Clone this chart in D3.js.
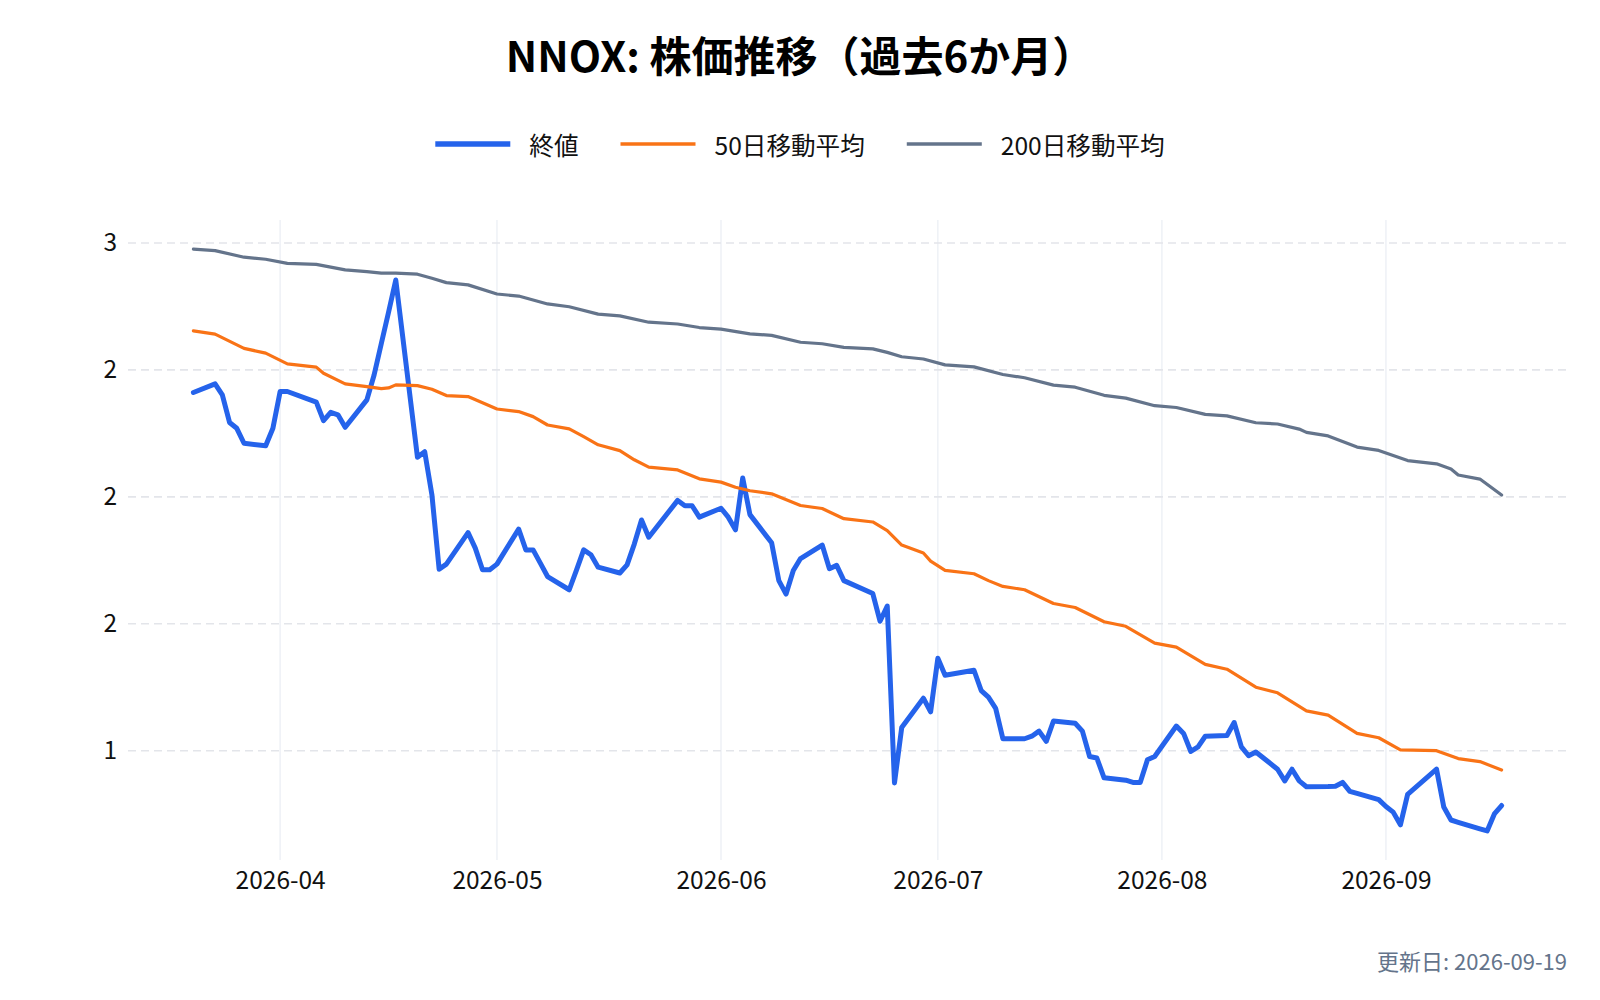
<!DOCTYPE html>
<html>
<head>
<meta charset="utf-8">
<script src="https://cdn.jsdelivr.net/npm/d3@7"></script>
<style>
  body { margin: 0; background: #fff; }
  svg text { font-family: "Noto Sans CJK JP", "Noto Sans", sans-serif; }
</style>
</head>
<body>
<div class="linechart"></div>
<script>
// DATA ------------------------------
const tradeDates = [
  "2026-03-20","2026-03-23","2026-03-24","2026-03-25","2026-03-26","2026-03-27","2026-03-30","2026-03-31",
  "2026-04-01","2026-04-02","2026-04-06","2026-04-07","2026-04-08","2026-04-09","2026-04-10",
  "2026-04-13","2026-04-14","2026-04-15","2026-04-16","2026-04-17","2026-04-20","2026-04-21","2026-04-22",
  "2026-04-23","2026-04-24","2026-04-27","2026-04-28","2026-04-29","2026-04-30","2026-05-01",
  "2026-05-04","2026-05-05","2026-05-06","2026-05-07","2026-05-08","2026-05-11","2026-05-12","2026-05-13",
  "2026-05-14","2026-05-15","2026-05-18","2026-05-19","2026-05-20","2026-05-21","2026-05-22",
  "2026-05-26","2026-05-27","2026-05-28","2026-05-29","2026-06-01","2026-06-02","2026-06-03","2026-06-04",
  "2026-06-05","2026-06-08","2026-06-09","2026-06-10","2026-06-11","2026-06-12","2026-06-15","2026-06-16",
  "2026-06-17","2026-06-18","2026-06-22","2026-06-23","2026-06-24","2026-06-25","2026-06-26",
  "2026-06-29","2026-06-30","2026-07-01","2026-07-02","2026-07-06","2026-07-07","2026-07-08","2026-07-09",
  "2026-07-10","2026-07-13","2026-07-14","2026-07-15","2026-07-16","2026-07-17","2026-07-20","2026-07-21",
  "2026-07-22","2026-07-23","2026-07-24","2026-07-27","2026-07-28","2026-07-29","2026-07-30","2026-07-31",
  "2026-08-03","2026-08-04","2026-08-05","2026-08-06","2026-08-07","2026-08-10","2026-08-11","2026-08-12",
  "2026-08-13","2026-08-14","2026-08-17","2026-08-18","2026-08-19","2026-08-20","2026-08-21",
  "2026-08-24","2026-08-25","2026-08-26","2026-08-27","2026-08-28","2026-08-31","2026-09-01","2026-09-02",
  "2026-09-03","2026-09-04","2026-09-08","2026-09-09","2026-09-10","2026-09-11","2026-09-14","2026-09-15",
  "2026-09-16","2026-09-17"
];

const closeValues = [
  2.411, 2.445, 2.402, 2.293, 2.270, 2.211, 2.201, 2.270,
  2.415, 2.415, 2.373, 2.300, 2.333, 2.323, 2.274,
  2.382, 2.480, 2.604, 2.727, 2.854, 2.156, 2.178, 2.008,
  1.715, 1.735, 1.859, 1.798, 1.713, 1.713, 1.735,
  1.873, 1.791, 1.791, 1.739, 1.686, 1.634, 1.711, 1.791,
  1.772, 1.723, 1.700, 1.732, 1.814, 1.909, 1.841,
  1.986, 1.965, 1.965, 1.920, 1.955, 1.920, 1.870, 2.074,
  1.930, 1.819, 1.670, 1.617, 1.710, 1.757, 1.810, 1.717,
  1.730, 1.670, 1.619, 1.510, 1.570, 0.873, 1.091,
  1.207, 1.153, 1.364, 1.297, 1.317, 1.237, 1.211, 1.167,
  1.047, 1.047, 1.057, 1.077, 1.037, 1.117, 1.108, 1.077,
  0.977, 0.971, 0.893, 0.884, 0.875, 0.875, 0.964, 0.977,
  1.097, 1.068, 0.997, 1.015, 1.057, 1.060, 1.111, 1.015,
  0.980, 0.995, 0.927, 0.881, 0.927, 0.881, 0.858,
  0.859, 0.860, 0.875, 0.840, 0.832, 0.807, 0.780, 0.758,
  0.708, 0.828, 0.927, 0.778, 0.727, 0.718, 0.692, 0.684,
  0.751, 0.784
];

// 50-day moving average (read at the visible kinks)
const ma50Dates = [
  "2026-03-20","2026-03-23","2026-03-27","2026-03-30","2026-04-02","2026-04-06","2026-04-07","2026-04-10",
  "2026-04-13","2026-04-15","2026-04-16","2026-04-17","2026-04-20","2026-04-22","2026-04-24","2026-04-27",
  "2026-05-01","2026-05-04","2026-05-06","2026-05-08","2026-05-11","2026-05-13","2026-05-15","2026-05-18",
  "2026-05-20","2026-05-22","2026-05-26","2026-05-29","2026-06-01","2026-06-03","2026-06-05","2026-06-08",
  "2026-06-12","2026-06-15","2026-06-18","2026-06-22","2026-06-24","2026-06-26","2026-06-29","2026-06-30",
  "2026-07-02","2026-07-06","2026-07-08","2026-07-10","2026-07-13","2026-07-17","2026-07-20","2026-07-24",
  "2026-07-27","2026-07-31","2026-08-03","2026-08-07","2026-08-10","2026-08-14","2026-08-17","2026-08-21",
  "2026-08-24","2026-08-28","2026-08-31","2026-09-03","2026-09-08","2026-09-11","2026-09-14","2026-09-17"
];
const ma50Values = [
  2.654, 2.641, 2.585, 2.566, 2.524, 2.511, 2.487, 2.445,
  2.434, 2.426, 2.429, 2.441, 2.438, 2.424, 2.399, 2.395,
  2.346, 2.336, 2.316, 2.283, 2.268, 2.237, 2.205, 2.182,
  2.146, 2.117, 2.106, 2.071, 2.058, 2.038, 2.024, 2.012,
  1.966, 1.954, 1.914, 1.901, 1.867, 1.810, 1.779, 1.747,
  1.710, 1.697, 1.670, 1.647, 1.634, 1.580, 1.564, 1.508,
  1.490, 1.424, 1.408, 1.340, 1.321, 1.250, 1.228, 1.157,
  1.140, 1.068, 1.051, 1.003, 1.000, 0.969, 0.957, 0.924
];

// 200-day moving average
const ma200Dates = [
  "2026-03-20","2026-03-23","2026-03-27","2026-03-30","2026-04-02","2026-04-06","2026-04-10","2026-04-13",
  "2026-04-15","2026-04-17","2026-04-20","2026-04-22","2026-04-24","2026-04-27","2026-05-01","2026-05-04",
  "2026-05-08","2026-05-11","2026-05-15","2026-05-18","2026-05-22","2026-05-26","2026-05-29","2026-06-01",
  "2026-06-05","2026-06-08","2026-06-12","2026-06-15","2026-06-18","2026-06-22","2026-06-24","2026-06-26",
  "2026-06-29","2026-07-02","2026-07-06","2026-07-10","2026-07-13","2026-07-17","2026-07-20","2026-07-24",
  "2026-07-27","2026-07-31","2026-08-03","2026-08-07","2026-08-10","2026-08-14","2026-08-17","2026-08-20",
  "2026-08-21","2026-08-24","2026-08-28","2026-08-31","2026-09-04","2026-09-08","2026-09-10","2026-09-11",
  "2026-09-14","2026-09-17"
];
const ma200Values = [
  2.976, 2.970, 2.944, 2.936, 2.920, 2.916, 2.894, 2.887,
  2.881, 2.881, 2.877, 2.861, 2.844, 2.835, 2.799, 2.791,
  2.760, 2.749, 2.720, 2.713, 2.688, 2.681, 2.667, 2.661,
  2.642, 2.636, 2.609, 2.603, 2.589, 2.583, 2.569, 2.552,
  2.543, 2.520, 2.512, 2.482, 2.469, 2.440, 2.432, 2.400,
  2.389, 2.359, 2.352, 2.325, 2.319, 2.292, 2.287, 2.267,
  2.254, 2.240, 2.196, 2.183, 2.143, 2.130, 2.110, 2.086,
  2.070, 2.007
];

const seriesNames = ["終値", "50日移動平均", "200日移動平均"];
const xTickDates = ["2026-04-01","2026-05-01","2026-06-01","2026-07-01","2026-08-01","2026-09-01"];
const yTickValues = [3, 2.5, 2, 1.5, 1];
const yTickLabels = ["3", "2", "2", "2", "1"];
const titleText = "NNOX: 株価推移（過去6か月）";
const updatedText = "更新日: 2026-09-19";

// CHART INIT ------------------------------
const parseDate = d3.utcParse("%Y-%m-%d");

const series = [
  { name: seriesNames[0], color: "#2563eb", width: 5,
    points: tradeDates.map((d, i) => ({ date: parseDate(d), value: closeValues[i] })) },
  { name: seriesNames[1], color: "#f97316", width: 3.2,
    points: ma50Dates.map((d, i) => ({ date: parseDate(d), value: ma50Values[i] })) },
  { name: seriesNames[2], color: "#64748b", width: 3.2,
    points: ma200Dates.map((d, i) => ({ date: parseDate(d), value: ma200Values[i] })) }
];

const totalW = 1600, totalH = 1000;
const margin = ({top: 220, right: 33, bottom: 140, left: 128});
const width = totalW - margin.left - margin.right,
      height = totalH - margin.top - margin.bottom;

const svg = d3.select(".linechart")
    .append("svg")
    .attr("width", totalW)
    .attr("height", totalH);

const g = svg.append("g")
    .attr("transform", `translate(${margin.left},${margin.top})`);

// scales (5% padding on both axes)
const allPoints = series.flatMap(s => s.points);
const xExt = d3.extent(allPoints, d => d.date);
const xPad = (xExt[1] - xExt[0]) * 0.05;
const xScale = d3.scaleUtc()
    .domain([new Date(+xExt[0] - xPad), new Date(+xExt[1] + xPad)])
    .range([0, width]);

const yExt = d3.extent(allPoints, d => d.value);
const yPad = (yExt[1] - yExt[0]) * 0.05;
const yScale = d3.scaleLinear()
    .domain([yExt[0] - yPad, yExt[1] + yPad])
    .range([height, 0]);

const xTicks = xTickDates.map(parseDate);

// grid
g.append("g")
    .attr("class", "x-grid")
    .selectAll("line")
    .data(xTicks)
    .join("line")
    .attr("x1", d => xScale(d))
    .attr("x2", d => xScale(d))
    .attr("y1", 0)
    .attr("y2", height)
    .attr("stroke", "#eef1f6")
    .attr("stroke-width", 1.5);

g.append("g")
    .attr("class", "y-grid")
    .selectAll("line")
    .data(yTickValues)
    .join("line")
    .attr("x1", 0)
    .attr("x2", width)
    .attr("y1", d => yScale(d))
    .attr("y2", d => yScale(d))
    .attr("stroke", "#e3e5ea")
    .attr("stroke-width", 1.6)
    .attr("stroke-dasharray", "8,5");

// axes
const xAxis = d3.axisBottom(xScale)
    .tickValues(xTicks)
    .tickFormat(d3.utcFormat("%Y-%m"))
    .tickSize(0)
    .tickPadding(12);

const yAxis = d3.axisLeft(yScale)
    .tickValues(yTickValues)
    .tickFormat((d, i) => yTickLabels[i])
    .tickSize(0)
    .tickPadding(11);

g.append("g")
    .attr("class", "axis x-axis")
    .attr("transform", `translate(0, ${height})`)
    .call(xAxis)
    .call(a => a.select(".domain").remove());

g.append("g")
    .attr("class", "axis y-axis")
    .call(yAxis)
    .call(a => a.select(".domain").remove());

svg.selectAll(".axis text")
    .attr("font-family", "Noto Sans CJK JP, Noto Sans, sans-serif")
    .attr("font-size", 24.5)
    .attr("fill", "#111");

// lines
const line = d3.line()
    .x(d => xScale(d.date))
    .y(d => yScale(d.value));

g.selectAll(".series")
    .data(series)
    .join("path")
    .attr("class", "series")
    .attr("fill", "none")
    .attr("stroke", d => d.color)
    .attr("stroke-width", d => d.width)
    .attr("stroke-linejoin", "round")
    .attr("stroke-linecap", "round")
    .attr("d", d => line(d.points));

// title
svg.append("text")
    .attr("x", totalW / 2)
    .attr("y", 72)
    .attr("text-anchor", "middle")
    .attr("font-size", 42)
    .attr("font-weight", "bold")
    .attr("fill", "#000")
    .text(titleText);

// legend
const legend = svg.append("g").attr("class", "legend");
const lineLen = 75, textGap = 19, itemGap = 42;
let cursor = 0;
series.forEach(s => {
    const item = legend.append("g").attr("transform", `translate(${cursor},0)`);
    item.append("line")
        .attr("x1", 0).attr("x2", lineLen)
        .attr("y1", 0).attr("y2", 0)
        .attr("stroke", s.color)
        .attr("stroke-width", s.width + 0.5);
    const t = item.append("text")
        .attr("x", lineLen + textGap)
        .attr("y", 0)
        .attr("dominant-baseline", "central")
        .attr("font-size", 24.6)
        .attr("fill", "#111")
        .text(s.name);
    cursor += lineLen + textGap + t.node().getComputedTextLength() + itemGap;
});
const legendW = cursor - itemGap;
legend.attr("transform", `translate(${(totalW - legendW) / 2}, 144)`);

// updated date
svg.append("text")
    .attr("x", margin.left + width)
    .attr("y", 970)
    .attr("text-anchor", "end")
    .attr("font-size", 22)
    .attr("fill", "#64748b")
    .text(updatedText);
</script>
</body>
</html>
